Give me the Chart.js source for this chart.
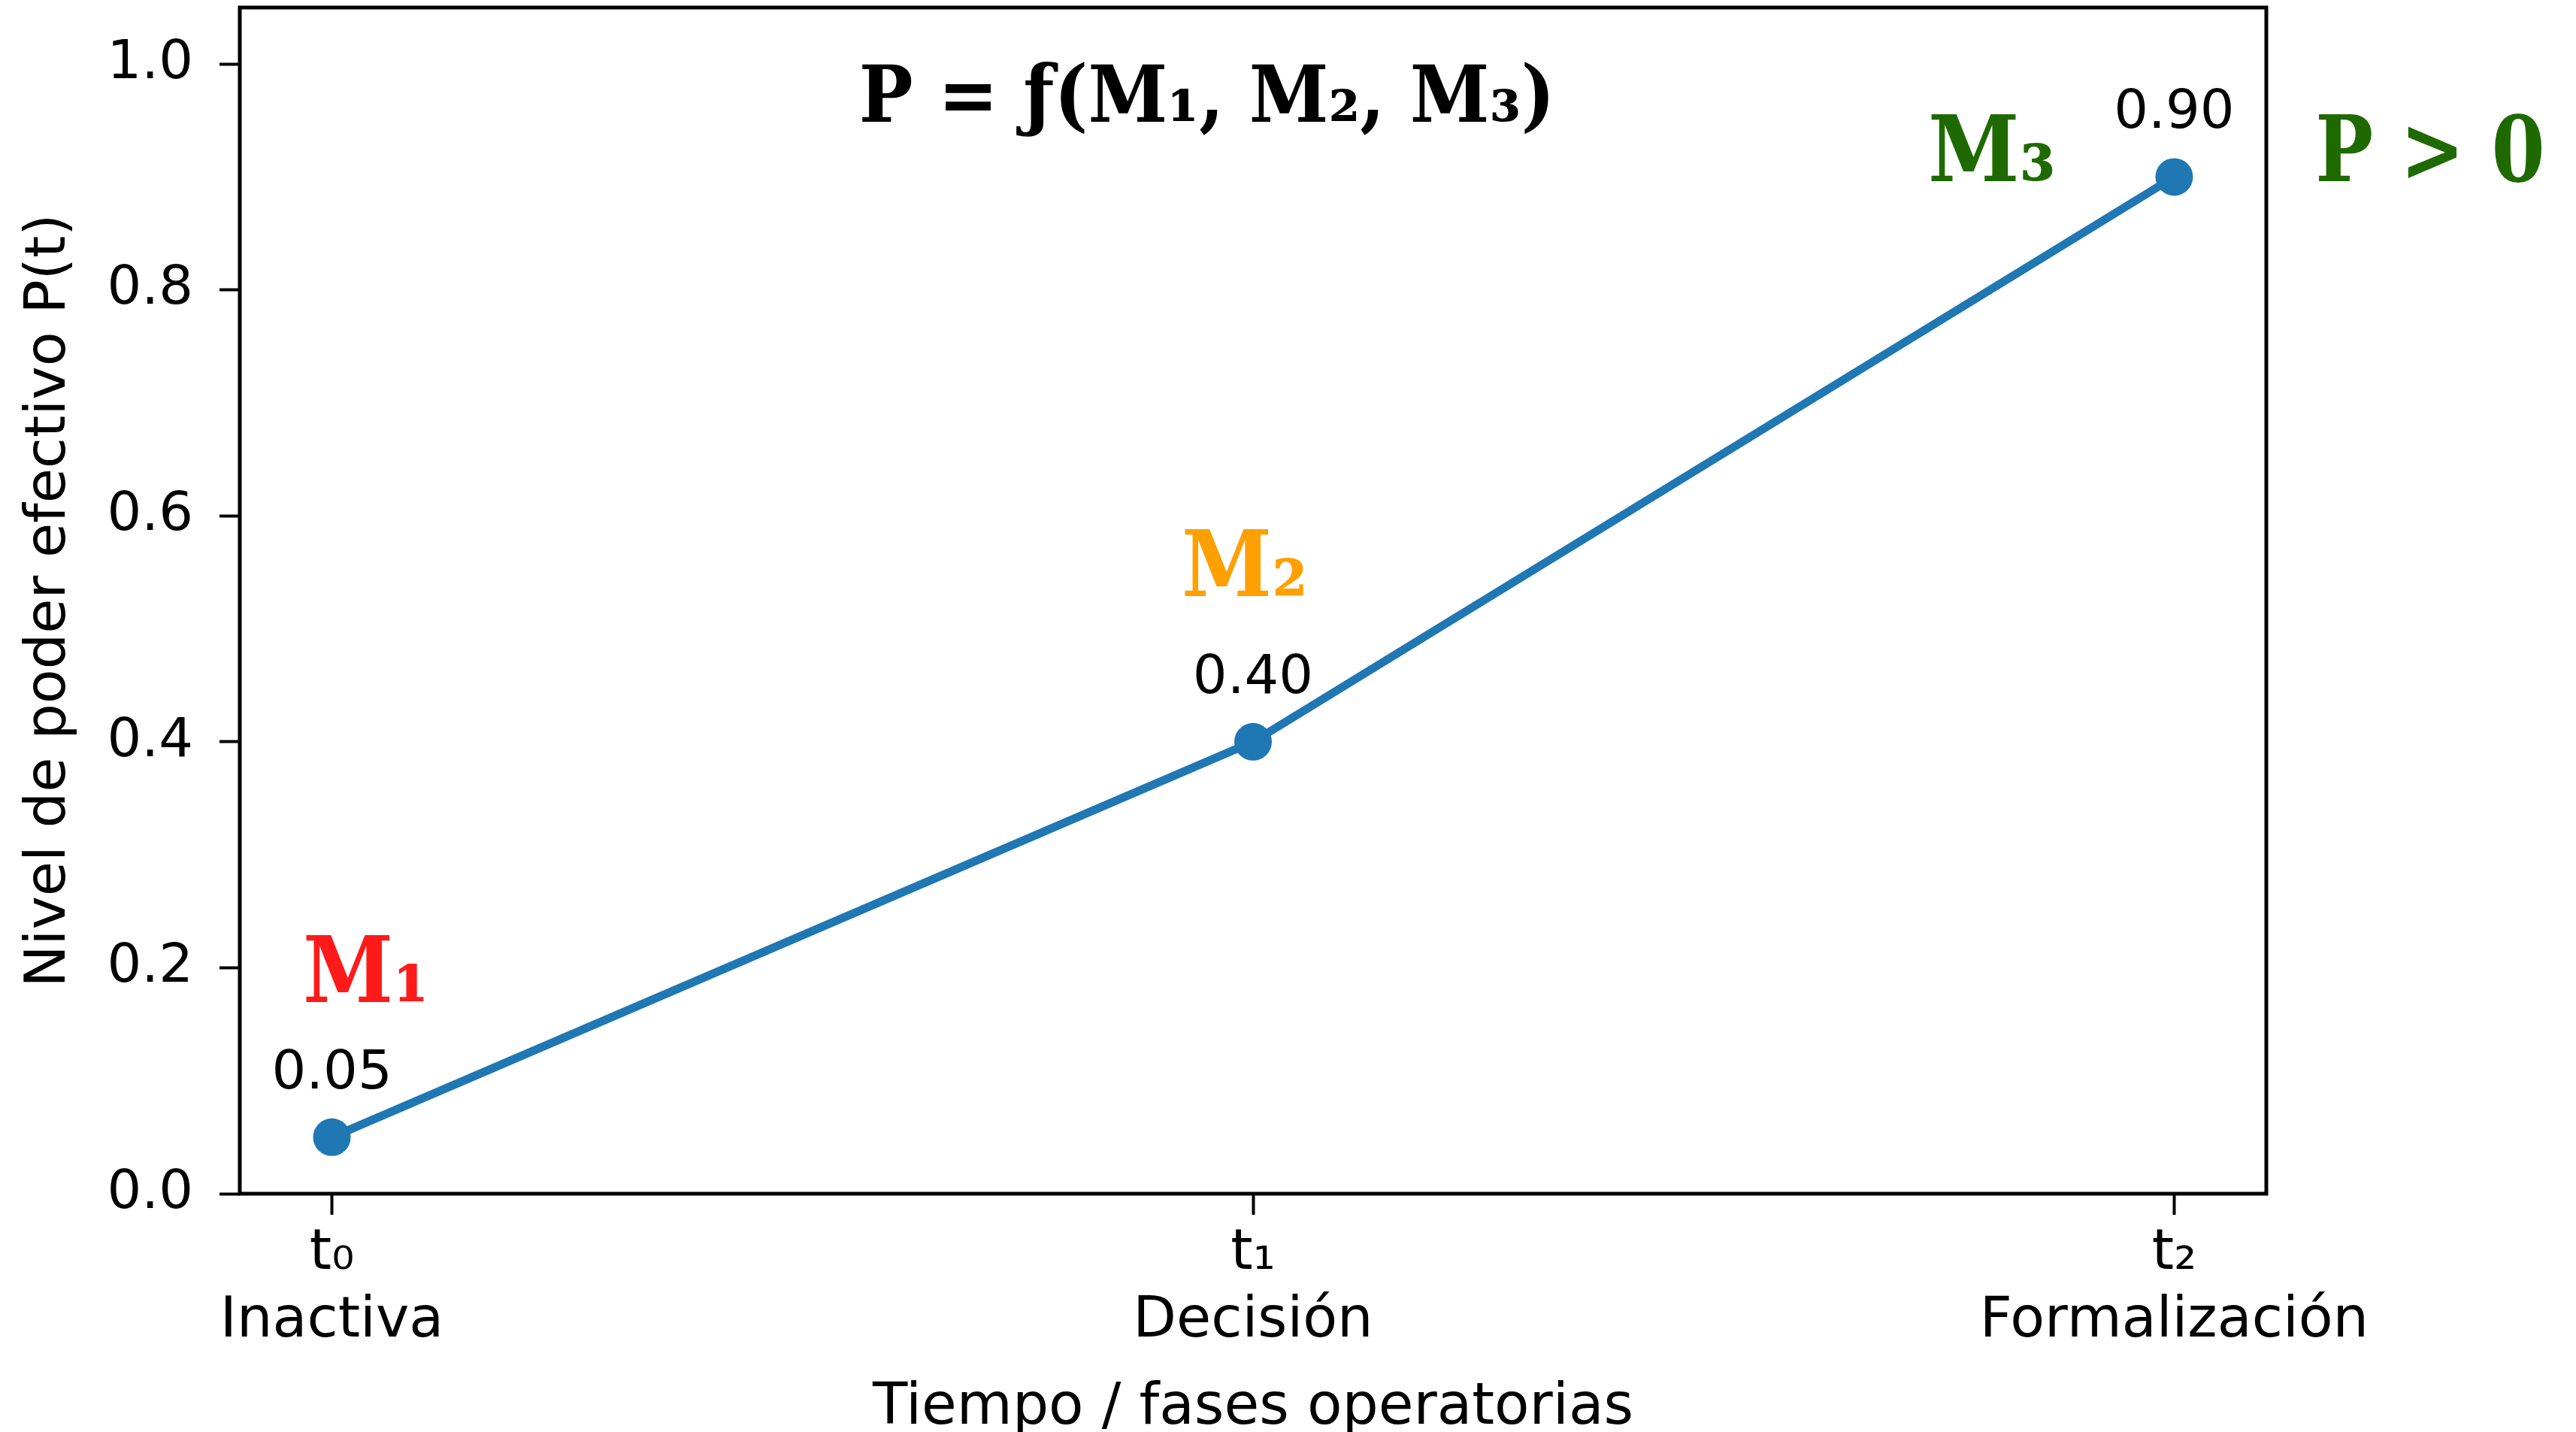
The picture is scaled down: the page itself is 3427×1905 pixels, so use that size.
<!DOCTYPE html>
<html>
<head>
<meta charset="utf-8">
<script src="https://cdn.jsdelivr.net/npm/chart.js@4/dist/chart.umd.min.js"></script>
<style>
  html, body { margin: 0; padding: 0; background: #fff; }
  canvas { display: block; }
</style>
</head>
<body>
<canvas id="powerCanvas" width="3427" height="1905" style="width:3427px;height:1905px"></canvas>
<script>
// phases on the x axis
const phaseX = [0, 1, 2];
const phaseTicks = ['t₀', 't₁', 't₂'];
const phaseNames = ['Inactiva', 'Decisión', 'Formalización'];

// effective power level P(t)
const powerValues = [0.05, 0.40, 0.90];

const yTicks = [0.0, 0.2, 0.4, 0.6, 0.8, 1.0];

// text notes drawn over the plot (x, y in data units, baseline)
const notes = [
  { text: 'P = ƒ(M₁, M₂, M₃)', x: 0.95, y: 0.949, color: '#000000', size: 105, sx: 0.91 },
  { text: 'M₁', x: 0.037, y: 0.170, color: '#ff1a1a', size: 122, sx: 0.89 },
  { text: 'M₂', x: 0.991, y: 0.529, color: '#ff9f00', size: 122, sx: 0.89 },
  { text: 'M₃', x: 1.802, y: 0.896, color: '#1f6a00', size: 122, sx: 0.9 },
  { text: 'P > 0', x: 2.278, y: 0.896, color: '#1f6a00', size: 122, sx: 0.84 }
];

const overlay = {
  id: 'overlay',
  afterDatasetsDraw(chart) {
    const ctx = chart.ctx;
    const area = chart.chartArea;
    const xs = chart.scales.x, ys = chart.scales.y;
    ctx.save();

    // value labels above the markers
    const meta = chart.getDatasetMeta(0);
    ctx.fillStyle = '#000';
    ctx.font = '72px "DejaVu Sans"';
    ctx.textAlign = 'center';
    ctx.textBaseline = 'alphabetic';
    meta.data.forEach((pt, i) => {
      ctx.fillText(powerValues[i].toFixed(2), pt.x, pt.y - 65);
    });

    // notes
    notes.forEach(n => {
      ctx.save();
      ctx.translate(xs.getPixelForValue(n.x), ys.getPixelForValue(n.y));
      ctx.scale(n.sx, 1);
      ctx.fillStyle = n.color;
      ctx.font = 'bold ' + n.size + 'px "DejaVu Serif"';
      ctx.fillText(n.text, 0, 0);
      ctx.restore();
    });

    // axes frame
    ctx.strokeStyle = '#000';
    ctx.lineWidth = 5;
    ctx.strokeRect(area.left, area.top, area.right - area.left, area.bottom - area.top);
    ctx.restore();
  }
};

const ctx = document.getElementById('powerCanvas').getContext('2d');
const chart = new Chart(ctx, {
  type: 'line',
  data: {
    datasets: [{
      data: phaseX.map((x, i) => ({ x: x, y: powerValues[i] })),
      borderColor: '#1f77b4',
      backgroundColor: '#1f77b4',
      borderWidth: 11,
      pointRadius: 25,
      pointHoverRadius: 25,
      pointBorderWidth: 0,
      tension: 0
    }]
  },
  options: {
    responsive: false,
    devicePixelRatio: 1,
    animation: false,
    layout: { autoPadding: false, padding: { top: 10, right: 412, bottom: 0, left: 0 } },
    plugins: {
      legend: { display: false },
      tooltip: { enabled: false }
    },
    scales: {
      x: {
        type: 'linear',
        min: -0.1,
        max: 2.1,
        afterBuildTicks: s => { s.ticks = phaseX.map(v => ({ value: v })); },
        afterFit: s => {
          s.height = 317;
          s.paddingLeft = 0; s.paddingRight = 0;
        },
        ticks: {
          callback: v => {
            const i = phaseX.indexOf(v);
            return [phaseTicks[i], phaseNames[i]];
          },
          font: { family: 'DejaVu Sans', size: 75, lineHeight: 1.2 },
          color: '#000',
          padding: 8,
          maxRotation: 0,
          autoSkip: false
        },
        grid: {
          drawOnChartArea: false,
          drawTicks: true,
          tickLength: 28,
          tickWidth: 4,
          tickColor: '#000'
        },
        border: { display: false },
        title: {
          display: true,
          text: 'Tiempo / fases operatorias',
          font: { family: 'DejaVu Sans', size: 76, lineHeight: 0.8 },
          color: '#000',
          padding: 0
        }
      },
      y: {
        min: 0,
        max: 1.05,
        afterBuildTicks: s => { s.ticks = yTicks.map(v => ({ value: v })); },
        afterFit: s => {
          s.width = 319;
          s.paddingTop = 0; s.paddingBottom = 0;
        },
        ticks: {
          callback: v => v.toFixed(1),
          font: { family: 'DejaVu Sans', size: 72 },
          color: '#000',
          padding: 35
        },
        grid: {
          drawOnChartArea: false,
          drawTicks: true,
          tickLength: 27,
          tickWidth: 4,
          tickColor: '#000'
        },
        border: { display: false },
        title: {
          display: true,
          text: 'Nivel de poder efectivo P(t)',
          font: { family: 'DejaVu Sans', size: 75, lineHeight: 1.1 },
          color: '#000',
          padding: { top: 25, bottom: 0 }
        }
      }
    }
  },
  plugins: [overlay]
});
</script>
</body>
</html>
